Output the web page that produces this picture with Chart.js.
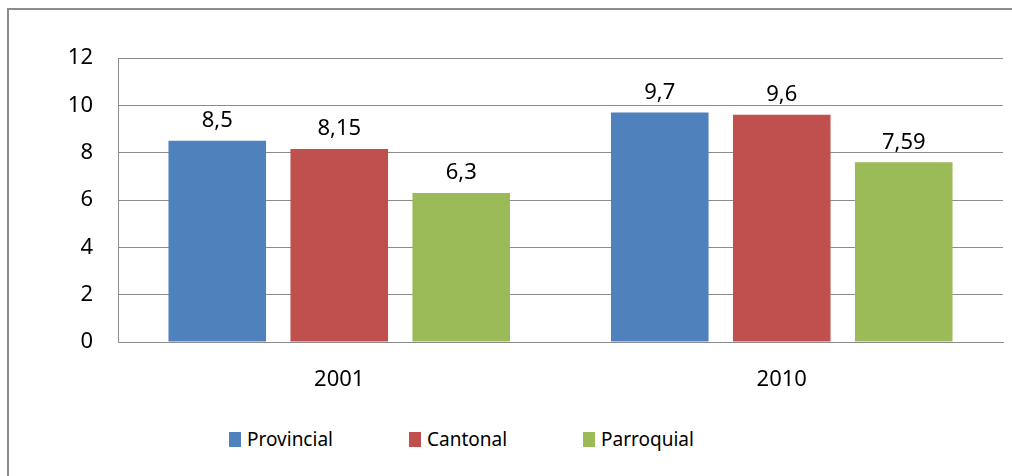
<!DOCTYPE html>
<html>
<head>
<meta charset="utf-8">
<script src="https://cdn.jsdelivr.net/npm/chart.js@4"></script>
<style>
  html, body { margin: 0; padding: 0; background: #fff; overflow: hidden; }
  body { width: 1012px; height: 476px; position: relative; font-family: "Noto Sans", sans-serif; }
  #frame { position: absolute; left: 7px; top: 8px; width: 1020px; height: 480px;
           border-left: 2px solid #8c8c8c; border-top: 2px solid #8c8c8c; }
  #wrap { position: absolute; left: 0; top: 0; width: 1012px; height: 400px; }
  #legend { position: absolute; left: 229px; top: 426px; display: flex; gap: 76px; font-size: 19px; color: #000; }
  #legend span.item { display: flex; align-items: center; }
  #legend i { display: inline-block; width: 12px; height: 15px; margin-right: 6px; }
</style>
</head>
<body>
<div id="frame"></div>
<div id="wrap"><canvas id="chart"></canvas></div>
<div id="legend"></div>
<script>
var years = ["2001", "2010"];
var provincial = [8.5, 9.7];
var cantonal = [8.15, 9.6];
var parroquial = [6.3, 7.59];
var seriesNames = ["Provincial", "Cantonal", "Parroquial"];
var seriesColors = ["#4F81BD", "#C0504D", "#9BBB59"];
var yTicks = [0, 2, 4, 6, 8, 10, 12];

var valueLabels = {
    id: 'valueLabels',
    afterDatasetsDraw: function(chart) {
        var ctx = chart.ctx;
        ctx.save();
        ctx.font = '22px "Noto Sans"';
        ctx.fillStyle = '#000';
        ctx.textAlign = 'center';
        ctx.textBaseline = 'middle';
        chart.data.datasets.forEach(function(ds, i) {
            chart.getDatasetMeta(i).data.forEach(function(bar, j) {
                ctx.fillText(String(ds.data[j]).replace('.', ','), bar.x, bar.y - 20);
            });
        });
        ctx.restore();
    }
};

var series = [provincial, cantonal, parroquial];

new Chart(document.getElementById('chart').getContext('2d'), {
    type: 'bar',
    data: {
        labels: years,
        datasets: series.map(function(d, i) {
            return {
                label: seriesNames[i],
                data: d,
                backgroundColor: seriesColors[i],
                categoryPercentage: 0.827,
                barPercentage: 0.8
            };
        })
    },
    options: {
        responsive: true,
        maintainAspectRatio: false,
        animation: false,
        layout: { padding: { top: 58, right: 9, left: 0, bottom: 0 } },
        plugins: { legend: { display: false }, tooltip: { enabled: false } },
        scales: {
            x: {
                grid: { display: false, drawTicks: false },
                border: { display: true, color: '#8c8c8c', width: 1 },
                ticks: { color: '#000', font: { family: 'Noto Sans', size: 22 }, padding: 25 },
                afterFit: function(s) { s.height = 58; }
            },
            y: {
                min: 0, max: 12,
                afterBuildTicks: function(s) { s.ticks = yTicks.map(function(v) { return { value: v }; }); },
                grid: { color: '#8c8c8c', drawTicks: false },
                border: { display: true, color: '#8c8c8c', width: 1 },
                ticks: { color: '#000', font: { family: 'Noto Sans', size: 22 }, padding: 25 },
                afterFit: function(s) { s.width = 118; }
            }
        }
    },
    plugins: [valueLabels]
});

var legend = document.getElementById('legend');
seriesNames.forEach(function(name, i) {
    var item = document.createElement('span');
    item.className = 'item';
    var box = document.createElement('i');
    box.style.background = seriesColors[i];
    item.appendChild(box);
    item.appendChild(document.createTextNode(name));
    legend.appendChild(item);
});
</script>
</body>
</html>
